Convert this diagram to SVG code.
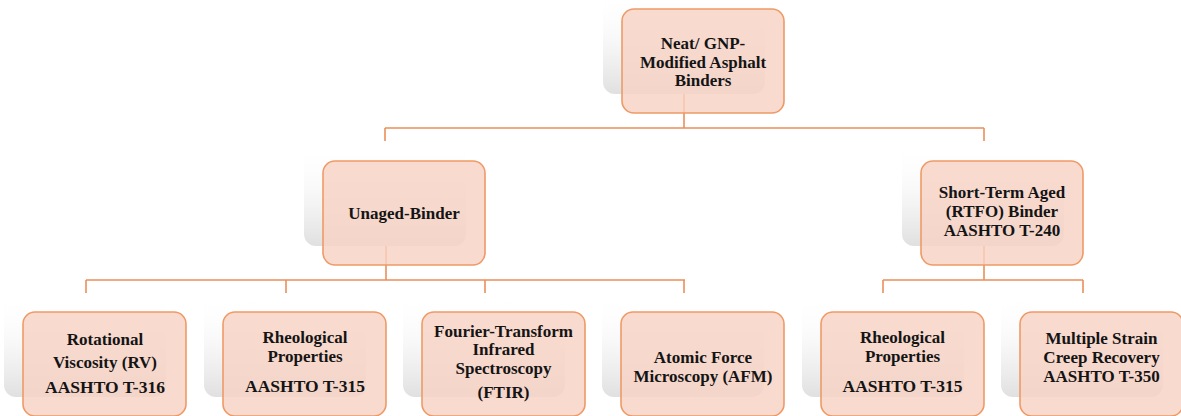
<svg xmlns="http://www.w3.org/2000/svg" width="1181" height="416" viewBox="0 0 1181 416">
<defs>
<linearGradient id="sh" x1="0" y1="0" x2="0" y2="1">
<stop offset="0" stop-color="#ffffff" stop-opacity="0"/>
<stop offset="0.45" stop-color="#f6f6f6" stop-opacity="0.7"/>
<stop offset="1" stop-color="#e0e0e0"/>
</linearGradient>
<style>
.shadow{fill:url(#sh);}
.box{fill:#F8D2C4;fill-opacity:0.82;stroke:#EE9A66;stroke-width:1.6;}
.conn{stroke:#EB8F5A;stroke-width:1.6;fill:none;}
</style>
</defs>
<rect width="1181" height="416" fill="#ffffff"/>
<g id="connectors">
<path class="conn" d="M684,94 V128 M385,128 H984 M385,128 V141 M984,128 V141"/>
<path class="conn" d="M386,246 V280 M86,280 H685 M86,280 V293 M286,280 V293 M485,280 V293 M684,280 V293"/>
<path class="conn" d="M984,246 V280 M883,280 H1083 M883,280 V293 M1083,280 V293"/>
</g>
<g id="node-root">
<rect class="shadow" x="603" y="-10" width="162" height="104" rx="12"/>
<rect class="box" x="622" y="9" width="162" height="104" rx="12"/>
<text x="703" y="49" font-family="Liberation Serif" font-size="17" font-weight="bold" fill="#141414" text-anchor="middle">Neat/ GNP-</text>
<text x="703" y="68" font-family="Liberation Serif" font-size="17" font-weight="bold" fill="#141414" text-anchor="middle">Modified Asphalt</text>
<text x="703" y="86" font-family="Liberation Serif" font-size="17" font-weight="bold" fill="#141414" text-anchor="middle">Binders</text>
</g>
<g id="node-unaged">
<rect class="shadow" x="304" y="142" width="162" height="104" rx="12"/>
<rect class="box" x="323" y="161" width="162" height="104" rx="12"/>
<text x="404" y="219" font-family="Liberation Serif" font-size="17" font-weight="bold" fill="#141414" text-anchor="middle">Unaged-Binder</text>
</g>
<g id="node-rtfo">
<rect class="shadow" x="902" y="142" width="162" height="104" rx="12"/>
<rect class="box" x="921" y="161" width="162" height="104" rx="12"/>
<text x="1002" y="198" font-family="Liberation Serif" font-size="17" font-weight="bold" fill="#141414" text-anchor="middle">Short-Term Aged</text>
<text x="1002" y="217" font-family="Liberation Serif" font-size="17" font-weight="bold" fill="#141414" text-anchor="middle">(RTFO) Binder</text>
<text x="1002" y="236" font-family="Liberation Serif" font-size="17" font-weight="bold" fill="#141414" text-anchor="middle">AASHTO T-240</text>
</g>
<g id="node-rv">
<rect class="shadow" x="4" y="293" width="162" height="104" rx="12"/>
<rect class="box" x="23" y="312" width="163" height="104" rx="12"/>
<text x="105" y="345" font-family="Liberation Serif" font-size="17" font-weight="bold" fill="#141414" text-anchor="middle">Rotational</text>
<text x="105" y="368" font-family="Liberation Serif" font-size="17" font-weight="bold" fill="#141414" text-anchor="middle">Viscosity (RV)</text>
<text x="105" y="393" font-family="Liberation Serif" font-size="17.5" font-weight="bold" fill="#141414" text-anchor="middle">AASHTO T-316</text>
</g>
<g id="node-rheo1">
<rect class="shadow" x="204" y="293" width="162" height="104" rx="12"/>
<rect class="box" x="223" y="312" width="163" height="104" rx="12"/>
<text x="305" y="343" font-family="Liberation Serif" font-size="17" font-weight="bold" fill="#141414" text-anchor="middle">Rheological</text>
<text x="305" y="362" font-family="Liberation Serif" font-size="17" font-weight="bold" fill="#141414" text-anchor="middle">Properties</text>
<text x="305" y="392" font-family="Liberation Serif" font-size="17.5" font-weight="bold" fill="#141414" text-anchor="middle">AASHTO T-315</text>
</g>
<g id="node-ftir">
<rect class="shadow" x="403" y="293" width="162" height="104" rx="12"/>
<rect class="box" x="422" y="312" width="163" height="104" rx="12"/>
<text x="503.5" y="337" font-family="Liberation Serif" font-size="17" font-weight="bold" fill="#141414" text-anchor="middle">Fourier-Transform</text>
<text x="503.5" y="355" font-family="Liberation Serif" font-size="17" font-weight="bold" fill="#141414" text-anchor="middle">Infrared</text>
<text x="503.5" y="374" font-family="Liberation Serif" font-size="17" font-weight="bold" fill="#141414" text-anchor="middle">Spectroscopy</text>
<text x="503.5" y="398" font-family="Liberation Serif" font-size="17" font-weight="bold" fill="#141414" text-anchor="middle">(FTIR)</text>
</g>
<g id="node-afm">
<rect class="shadow" x="602" y="293" width="162" height="104" rx="12"/>
<rect class="box" x="621" y="312" width="163" height="104" rx="12"/>
<text x="703" y="363" font-family="Liberation Serif" font-size="17" font-weight="bold" fill="#141414" text-anchor="middle">Atomic Force</text>
<text x="703" y="382" font-family="Liberation Serif" font-size="17" font-weight="bold" fill="#141414" text-anchor="middle">Microscopy (AFM)</text>
</g>
<g id="node-rheo2">
<rect class="shadow" x="802" y="293" width="162" height="104" rx="12"/>
<rect class="box" x="821" y="312" width="163" height="104" rx="12"/>
<text x="902.5" y="343" font-family="Liberation Serif" font-size="17" font-weight="bold" fill="#141414" text-anchor="middle">Rheological</text>
<text x="902.5" y="362" font-family="Liberation Serif" font-size="17" font-weight="bold" fill="#141414" text-anchor="middle">Properties</text>
<text x="902.5" y="392" font-family="Liberation Serif" font-size="17.5" font-weight="bold" fill="#141414" text-anchor="middle">AASHTO T-315</text>
</g>
<g id="node-mscr">
<rect class="shadow" x="1001" y="293" width="162" height="104" rx="12"/>
<rect class="box" x="1020" y="312" width="163" height="104" rx="12"/>
<text x="1101.5" y="344" font-family="Liberation Serif" font-size="17" font-weight="bold" fill="#141414" text-anchor="middle">Multiple Strain</text>
<text x="1101.5" y="363" font-family="Liberation Serif" font-size="17" font-weight="bold" fill="#141414" text-anchor="middle">Creep Recovery</text>
<text x="1101.5" y="382" font-family="Liberation Serif" font-size="17" font-weight="bold" fill="#141414" text-anchor="middle">AASHTO T-350</text>
</g>
</svg>
